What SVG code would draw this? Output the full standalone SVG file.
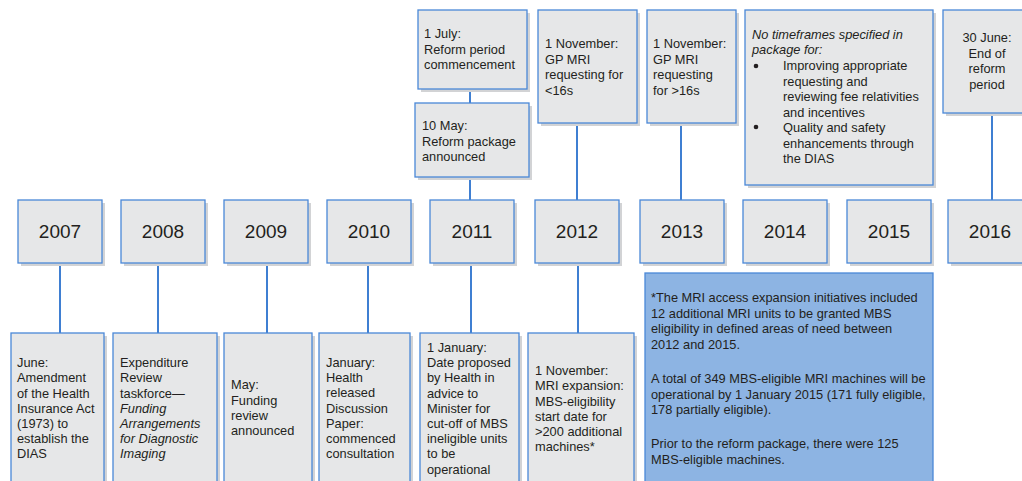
<svg xmlns="http://www.w3.org/2000/svg" width="1022" height="481" viewBox="0 0 1022 481">
<style>
.bx{fill:#e6e7e8;stroke:#4a88d8;stroke-width:1.3}
.sh{fill:#d2d3d5}
.nt{fill:#8db4e3;stroke:#4a88d8;stroke-width:1.3}
.t{font-family:"Liberation Sans",Arial,sans-serif;font-size:12.8px;fill:#231f20}
.y{font-family:"Liberation Sans",Arial,sans-serif;font-size:19px;fill:#231f20;text-anchor:middle}
.i{font-style:italic}
.c{stroke:#3f7fd2;stroke-width:2;fill:none}
</style>
<rect width="1022" height="481" fill="#ffffff"/>
<g id="connectors">
<line class="c" x1="60" y1="263" x2="60" y2="333"/>
<line class="c" x1="158" y1="263" x2="158" y2="333"/>
<line class="c" x1="267" y1="263" x2="267" y2="333"/>
<line class="c" x1="368" y1="263" x2="368" y2="333"/>
<line class="c" x1="471" y1="263" x2="471" y2="333"/>
<line class="c" x1="578" y1="263" x2="578" y2="333"/>
<line class="c" x1="470" y1="89" x2="470" y2="103"/>
<line class="c" x1="470" y1="177" x2="470" y2="200"/>
<line class="c" x1="577" y1="123" x2="577" y2="200"/>
<line class="c" x1="681" y1="123" x2="681" y2="200"/>
<line class="c" x1="992" y1="113" x2="992" y2="200"/>
</g>
<g id="y2007"><rect class="sh" x="21" y="203" width="84" height="63"/><rect class="bx" x="18" y="200" width="84" height="63"/><text class="y" x="60" y="238">2007</text></g>
<g id="y2008"><rect class="sh" x="124" y="203" width="84" height="63"/><rect class="bx" x="121" y="200" width="84" height="63"/><text class="y" x="163" y="238">2008</text></g>
<g id="y2009"><rect class="sh" x="227" y="203" width="84" height="63"/><rect class="bx" x="224" y="200" width="84" height="63"/><text class="y" x="266" y="238">2009</text></g>
<g id="y2010"><rect class="sh" x="330" y="203" width="84" height="63"/><rect class="bx" x="327" y="200" width="84" height="63"/><text class="y" x="369" y="238">2010</text></g>
<g id="y2011"><rect class="sh" x="433" y="203" width="84" height="63"/><rect class="bx" x="430" y="200" width="84" height="63"/><text class="y" x="472" y="238">2011</text></g>
<g id="y2012"><rect class="sh" x="538" y="203" width="84" height="63"/><rect class="bx" x="535" y="200" width="84" height="63"/><text class="y" x="577" y="238">2012</text></g>
<g id="y2013"><rect class="sh" x="643" y="203" width="84" height="63"/><rect class="bx" x="640" y="200" width="84" height="63"/><text class="y" x="682" y="238">2013</text></g>
<g id="y2014"><rect class="sh" x="746" y="203" width="84" height="63"/><rect class="bx" x="743" y="200" width="84" height="63"/><text class="y" x="785" y="238">2014</text></g>
<g id="y2015"><rect class="sh" x="850" y="203" width="84" height="63"/><rect class="bx" x="847" y="200" width="84" height="63"/><text class="y" x="889" y="238">2015</text></g>
<g id="y2016"><rect class="sh" x="951" y="203" width="84" height="63"/><rect class="bx" x="948" y="200" width="84" height="63"/><text class="y" x="990" y="238">2016</text></g>

<g id="e2011july"><rect class="sh" x="421" y="13" width="109" height="79"/><rect class="bx" x="418" y="10" width="109" height="79"/>
<text class="t"><tspan x="424" y="38">1 July:</tspan><tspan x="424" y="53.5">Reform period</tspan><tspan x="424" y="69">commencement</tspan></text></g>
<g id="e2011may"><rect class="sh" x="418" y="106" width="114" height="74"/><rect class="bx" x="415" y="103" width="114" height="74"/>
<text class="t"><tspan x="422" y="130">10 May:</tspan><tspan x="422" y="145.5">Reform package</tspan><tspan x="422" y="161">announced</tspan></text></g>
<g id="e2012top"><rect class="sh" x="541" y="13" width="99" height="113"/><rect class="bx" x="538" y="10" width="99" height="113"/>
<text class="t"><tspan x="545" y="48">1 November:</tspan><tspan x="545" y="63.5">GP MRI</tspan><tspan x="545" y="79">requesting for</tspan><tspan x="545" y="94.5">&lt;16s</tspan></text></g>
<g id="e2013top"><rect class="sh" x="650" y="13" width="89" height="113"/><rect class="bx" x="647" y="10" width="89" height="113"/>
<text class="t"><tspan x="653" y="48">1 November:</tspan><tspan x="653" y="63.5">GP MRI</tspan><tspan x="653" y="79">requesting</tspan><tspan x="653" y="94.5">for &gt;16s</tspan></text></g>
<g id="e2014top"><rect class="sh" x="748" y="13" width="188" height="175"/><rect class="bx" x="745" y="10" width="188" height="175"/>
<text class="t i"><tspan x="752" y="39">No timeframes specified in</tspan><tspan x="752" y="54">package for:</tspan></text>
<circle cx="756" cy="66" r="2.3" fill="#231f20"/><circle cx="756" cy="127" r="2.3" fill="#231f20"/>
<text class="t"><tspan x="783" y="70">Improving appropriate</tspan><tspan x="783" y="85.5">requesting and</tspan><tspan x="783" y="101">reviewing fee relativities</tspan><tspan x="783" y="116.5">and incentives</tspan><tspan x="783" y="132">Quality and safety</tspan><tspan x="783" y="147.5">enhancements through</tspan><tspan x="783" y="163">the DIAS</tspan></text></g>
<g id="e2016top"><rect class="sh" x="946" y="13" width="90" height="103"/><rect class="bx" x="943" y="10" width="90" height="103"/>
<text class="t" text-anchor="middle"><tspan x="987" y="42">30 June:</tspan><tspan x="987" y="57.5">End of</tspan><tspan x="987" y="73">reform</tspan><tspan x="987" y="88.5">period</tspan></text></g>

<g id="e2007"><rect class="sh" x="14" y="336" width="93" height="160"/><rect class="bx" x="11" y="333" width="93" height="160"/>
<text class="t"><tspan x="17" y="367">June:</tspan><tspan x="17" y="382">Amendment</tspan><tspan x="17" y="397.5">of the Health</tspan><tspan x="17" y="412.5">Insurance Act</tspan><tspan x="17" y="428">(1973) to</tspan><tspan x="17" y="443">establish the</tspan><tspan x="17" y="458">DIAS</tspan></text></g>
<g id="e2008"><rect class="sh" x="116" y="336" width="104" height="160"/><rect class="bx" x="113" y="333" width="104" height="160"/>
<text class="t"><tspan x="120" y="367">Expenditure</tspan><tspan x="120" y="382">Review</tspan><tspan x="120" y="397.5">taskforce—</tspan><tspan class="i" x="120" y="412.5">Funding</tspan><tspan class="i" x="120" y="428">Arrangements</tspan><tspan class="i" x="120" y="443">for Diagnostic</tspan><tspan class="i" x="120" y="458">Imaging</tspan></text></g>
<g id="e2009"><rect class="sh" x="227" y="336" width="88" height="160"/><rect class="bx" x="224" y="333" width="88" height="160"/>
<text class="t"><tspan x="231" y="389">May:</tspan><tspan x="231" y="404.5">Funding</tspan><tspan x="231" y="420">review</tspan><tspan x="231" y="435">announced</tspan></text></g>
<g id="e2010"><rect class="sh" x="322" y="336" width="91" height="160"/><rect class="bx" x="319" y="333" width="91" height="160"/>
<text class="t"><tspan x="326" y="367">January:</tspan><tspan x="326" y="382">Health</tspan><tspan x="326" y="397">released</tspan><tspan x="326" y="412.5">Discussion</tspan><tspan x="326" y="427.5">Paper:</tspan><tspan x="326" y="443">commenced</tspan><tspan x="326" y="458">consultation</tspan></text></g>
<g id="e2011"><rect class="sh" x="423" y="336" width="99" height="160"/><rect class="bx" x="420" y="333" width="99" height="160"/>
<text class="t"><tspan x="427" y="352">1 January:</tspan><tspan x="427" y="367">Date proposed</tspan><tspan x="427" y="382">by Health in</tspan><tspan x="427" y="397.5">advice to</tspan><tspan x="427" y="412.5">Minister for</tspan><tspan x="427" y="428">cut-off of MBS</tspan><tspan x="427" y="443">ineligible units</tspan><tspan x="427" y="458">to be</tspan><tspan x="427" y="473.5">operational</tspan></text></g>
<g id="e2012"><rect class="sh" x="531" y="336" width="106" height="160"/><rect class="bx" x="528" y="333" width="106" height="160"/>
<text class="t"><tspan x="535" y="375">1 November:</tspan><tspan x="535" y="390">MRI expansion:</tspan><tspan x="535" y="405.5">MBS-eligibility</tspan><tspan x="535" y="420.5">start date for</tspan><tspan x="535" y="436">&gt;200 additional</tspan><tspan x="535" y="451">machines*</tspan></text></g>
<g id="note"><rect class="nt" x="645" y="273" width="288" height="220"/>
<text class="t"><tspan x="651" y="302">*The MRI access expansion initiatives included</tspan><tspan x="651" y="317.5">12 additional MRI units to be granted MBS</tspan><tspan x="651" y="333">eligibility in defined areas of need between</tspan><tspan x="651" y="348.5">2012 and 2015.</tspan><tspan x="651" y="383">A total of 349 MBS-eligible MRI machines will be</tspan><tspan x="651" y="398.5">operational by 1 January 2015 (171 fully eligible,</tspan><tspan x="651" y="414">178 partially eligible).</tspan><tspan x="651" y="448">Prior to the reform package, there were 125</tspan><tspan x="651" y="463.5">MBS-eligible machines.</tspan></text></g>
</svg>
